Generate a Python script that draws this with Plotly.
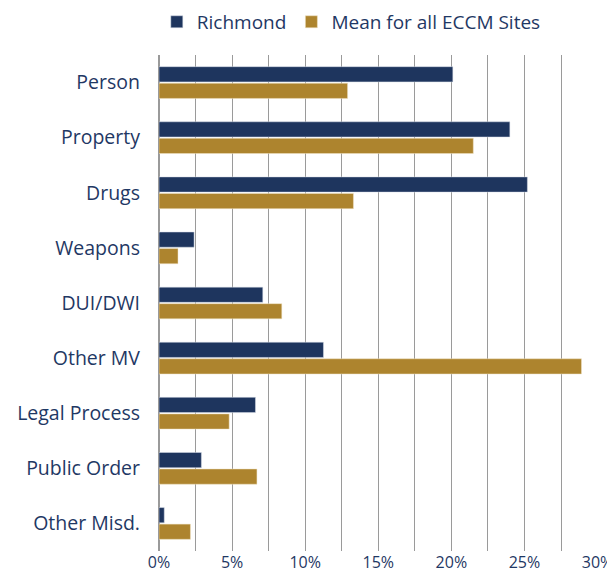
import plotly.graph_objects as go

categories = ["Person", "Property", "Drugs", "Weapons", "DUI/DWI", "Other MV",
              "Legal Process", "Public Order", "Other Misd."]
richmond = [20.1, 24.0, 25.2, 2.4, 7.1, 11.25, 6.6, 2.9, 0.36]
eccm_mean = [12.9, 21.5, 13.3, 1.3, 8.4, 28.9, 4.8, 6.7, 2.15]
tick_vals = [0, 5, 10, 15, 20, 25, 30]
tick_text = [f"{v}%" for v in tick_vals]

NAVY = "#1E355E"
GOLD = "#AD842E"
TEXT = "#1F3864"

fig = go.Figure()
fig.add_bar(y=categories, x=richmond, orientation="h", name="Richmond",
            marker=dict(color=NAVY, line=dict(color="#D9DEE8", width=0.5)))
fig.add_bar(y=categories, x=eccm_mean, orientation="h", name="Mean for all ECCM Sites",
            marker=dict(color=GOLD, line=dict(color="#F0E4C8", width=0.5)))

# page body has an 8px margin, so the figure is sized/offset to fit the window
fig.update_layout(
    width=607, height=577,
    barmode="group", bargap=0.4, bargroupgap=0.08,
    margin=dict(l=151, r=17, t=47, b=34, autoexpand=False),
    paper_bgcolor="white", plot_bgcolor="white",
    font=dict(family="Open Sans, sans-serif", color=TEXT),
    legend=dict(orientation="h", x=-0.005, xanchor="left", y=1.105, yanchor="top",
                font=dict(size=19, color=TEXT), itemwidth=30, traceorder="normal",
                bgcolor="rgba(0,0,0,0)"),
    xaxis=dict(range=[0, 30.03], tickvals=tick_vals, ticktext=tick_text,
               showgrid=True, gridcolor="#9A9A9A", gridwidth=1,
               zeroline=True, zerolinecolor="#9A9A9A",
               minor=dict(tickvals=[2.5, 7.5, 12.5, 17.5, 22.5, 27.5], showgrid=True,
                          gridcolor="#9A9A9A", gridwidth=1),
               tickfont=dict(size=16, color=TEXT), showline=False, fixedrange=True,
               automargin=False),
    yaxis=dict(autorange="reversed", tickfont=dict(size=19.5, color=TEXT),
               ticklabelstandoff=18, showgrid=False, automargin=False),
)

fig.write_html("out.html")
